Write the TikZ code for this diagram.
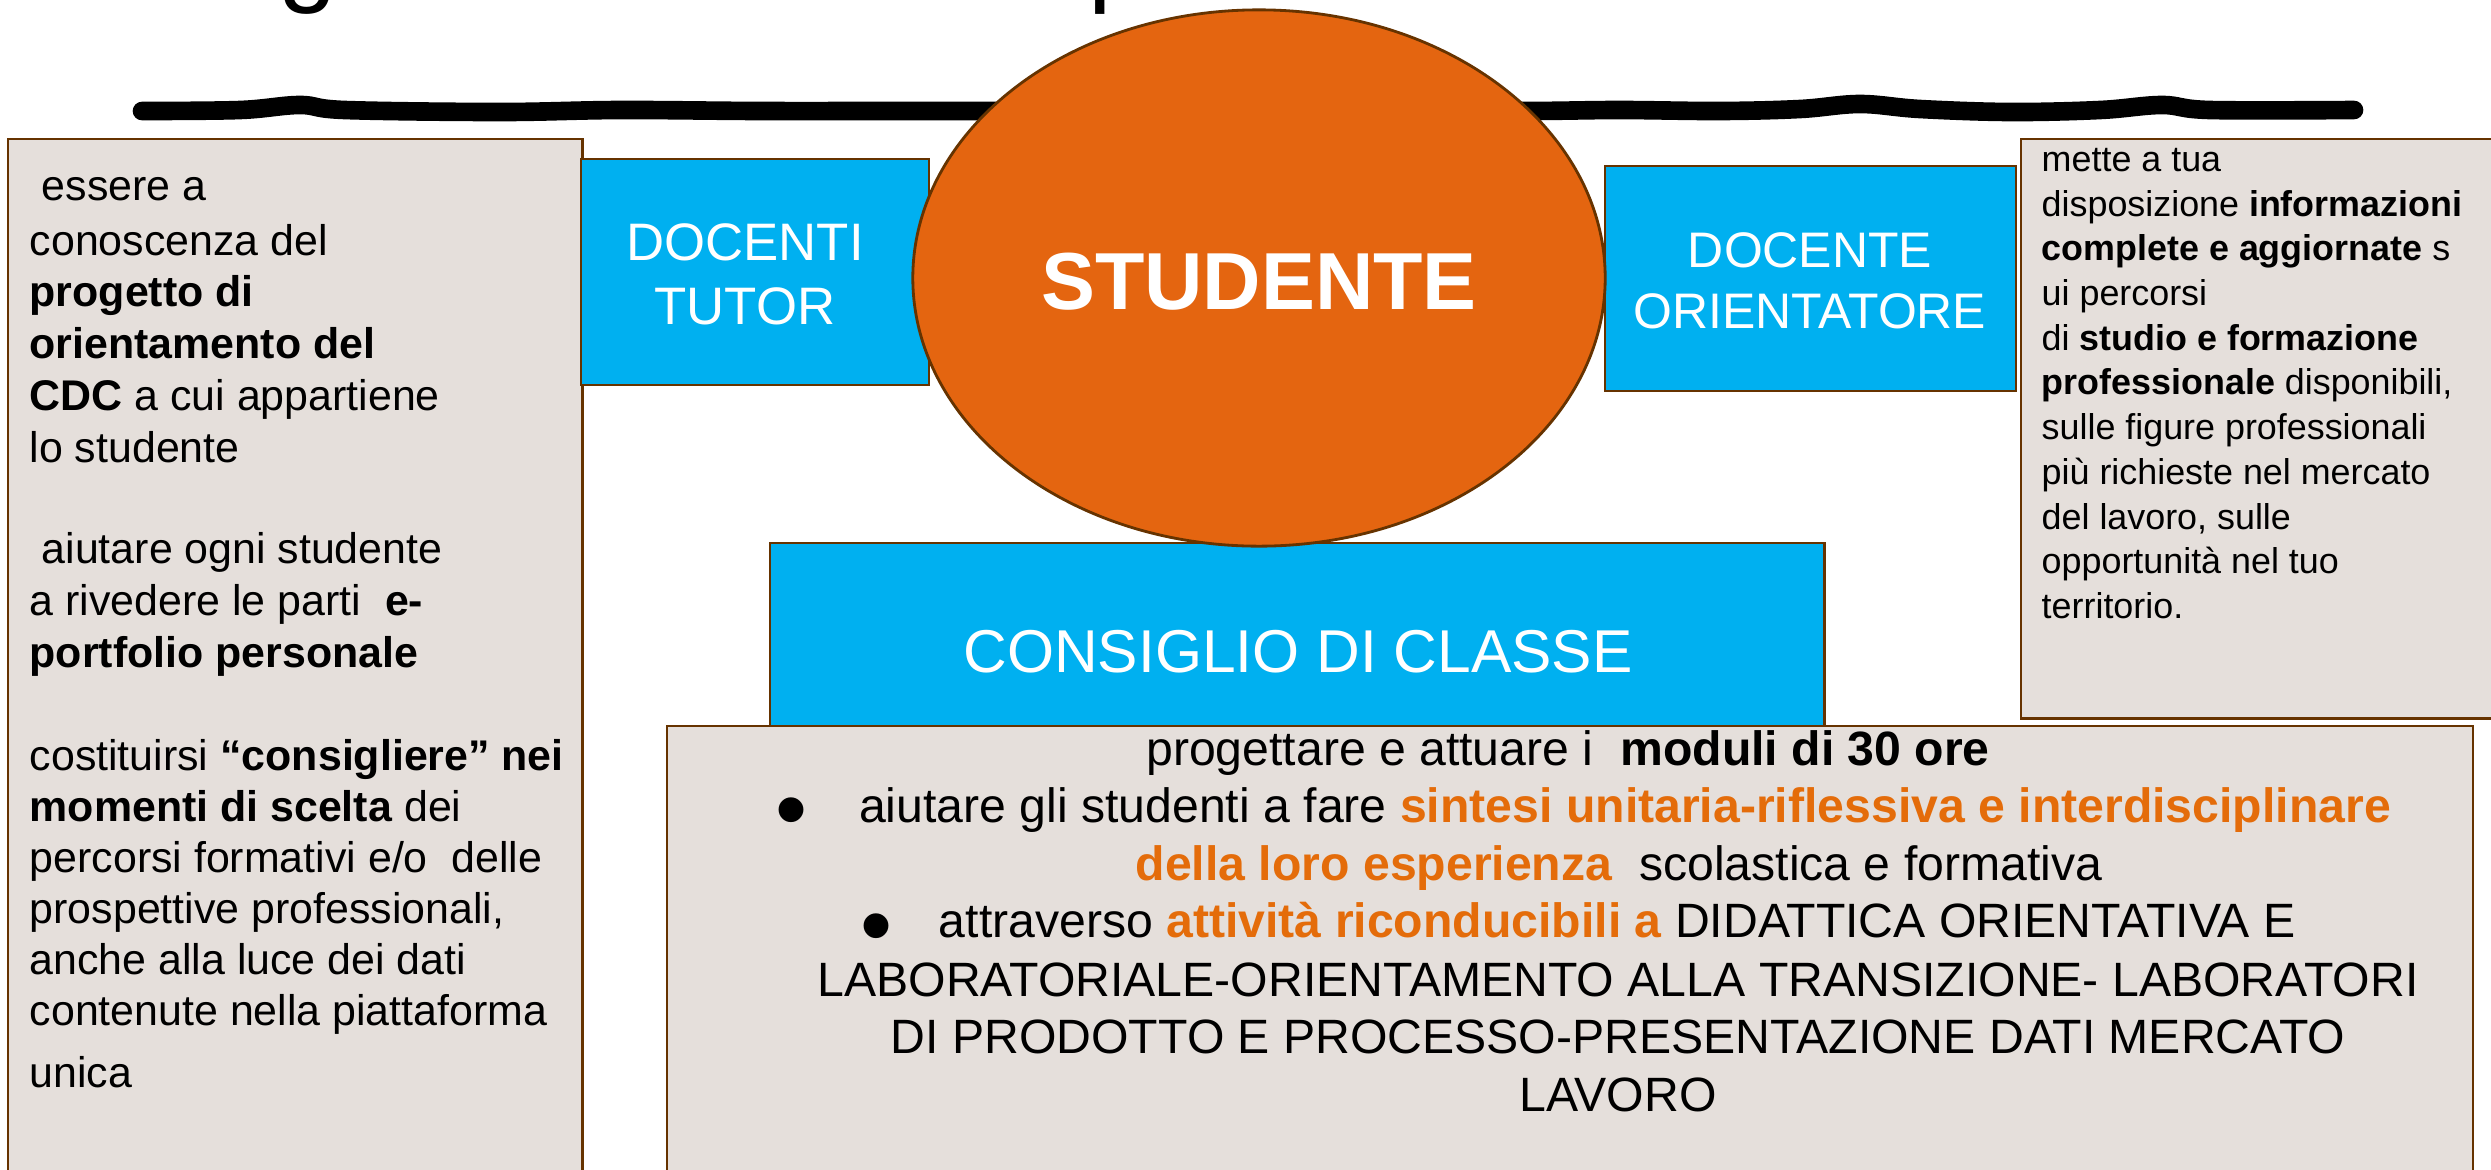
\documentclass[tikz,border=0pt]{standalone}
\usepackage{fontspec}
\setmainfont{Liberation Sans}
\usetikzlibrary{shapes.geometric}
\definecolor{cyanfill}{HTML}{00B0F0}
\definecolor{orangeell}{HTML}{E46510}
\definecolor{orangetxt}{HTML}{E46C0A}
\definecolor{greyfill}{HTML}{E5DFDB}
\definecolor{edgecol}{HTML}{663300}
\begin{document}
\begin{tikzpicture}[x=0.01cm,y=-0.01cm,
  greybox/.style={draw=edgecol, fill=greyfill, line width=0.7pt, anchor=north west, inner sep=0pt, outer sep=0pt},
  cyanbox/.style={draw=edgecol, fill=cyanfill, line width=0.7pt, anchor=north west, inner sep=0pt, outer sep=0pt},
  ln/.style={anchor=base west, inner sep=0pt},
  cl/.style={anchor=base, inner sep=0pt},
  lfont/.style={font=\fontsize{12.2}{14.6}\selectfont},
  rfont/.style={font=\fontsize{10.2}{12.7}\selectfont},
  bfont/.style={font=\fontsize{13.7}{16.4}\selectfont},
  bulletmark/.style={anchor=base, inner sep=0pt, text depth=0pt, text height=0.55em, font=\fontsize{26}{26}\selectfont},
  wlab/.style={anchor=base, inner sep=0pt, text=white},
]
\useasboundingbox (0,0) rectangle (2491,1169);
\fill[white] (0,0) rectangle (2491,1169);

% cut-off title (only descenders visible)
\begin{scope}
\clip (0,0) rectangle (2491,1169);
\node[ln, font=\fontsize{30}{36}\selectfont] (tg) at (278,-8) {g};
\node[ln, font=\fontsize{30}{36}\selectfont] (tp) at (1088,-8) {p};
\end{scope}

% hand-drawn black line
\draw[line width=5.3pt, line cap=round] plot[smooth, tension=0.6] coordinates {
 (142,111) (240,110) (300,105) (345,110) (500,112) (620,110) (760,111) (900,111)
 (1100,111) (1400,111)
 (1530,111) (1620,110) (1720,111) (1800,109) (1860,104) (1920,109) (2010,112)
 (2100,110) (2162,105) (2210,110) (2354,110)};

% boxes
\node[greybox, minimum width=5.74cm, minimum height=10.5cm] (leftbox) at (8,139) {};
\node[greybox, minimum width=5.2cm, minimum height=5.79cm] (rightbox) at (2021,139) {};
\node[cyanbox, minimum width=3.48cm, minimum height=2.26cm] (tutor) at (581,159) {};
\node[cyanbox, minimum width=4.11cm, minimum height=2.25cm] (orient) at (1605,166) {};
\node[cyanbox, minimum width=10.54cm, minimum height=1.85cm] (cdc) at (770,543) {};
\node[ellipse, draw=edgecol, fill=orangeell, line width=0.8pt, inner sep=0pt,
      minimum width=6.92cm, minimum height=5.36cm] (stud) at (1259,278) {};
\node[greybox, minimum width=18.05cm, minimum height=4.7cm] (botbox) at (667,726) {};

% labels in blue boxes and ellipse
\node[wlab, font=\fontsize{15}{17}\selectfont] (tut1) at (745,260) {DOCENTI};
\node[wlab, font=\fontsize{15}{17}\selectfont] (tut2) at (745,324) {TUTOR};
\node[wlab, font=\fontsize{14.2}{17}\selectfont] (or1) at (1810,267) {DOCENTE};
\node[wlab, font=\fontsize{14.2}{17}\selectfont] (or2) at (1810,328) {ORIENTATORE};
\node[wlab, font=\fontsize{23}{27}\selectfont\bfseries] (studlab) at (1259,309) {STUDENTE};
\node[wlab, font=\fontsize{17.2}{20}\selectfont] (cdclab) at (1298,672) {CONSIGLIO DI CLASSE};

% left box text
\node[ln,lfont] (l1) at (41,200) {essere a};
\node[ln,lfont] (l2) at (29,255) {conoscenza del};
\node[ln,lfont] (l3) at (29,306) {\bfseries progetto di};
\node[ln,lfont] (l4) at (29,358) {\bfseries orientamento del};
\node[ln,lfont] (l5) at (29,410) {\textbf{CDC} a cui appartiene};
\node[ln,lfont] (l6) at (29,462) {lo studente};
\node[ln,lfont] (l7) at (41,563) {aiutare ogni studente};
\node[ln,lfont] (l8) at (29,615) {a rivedere le parti\ \ \textbf{e-}};
\node[ln,lfont] (l9) at (29,667) {\bfseries portfolio personale};
\node[ln,lfont] (l10) at (29,770) {costituirsi \textbf{“consigliere” nei}};
\node[ln,lfont] (l11) at (29,821) {\textbf{momenti di scelta} dei};
\node[ln,lfont] (l12) at (29,872) {percorsi formativi e/o\ \ delle};
\node[ln,lfont] (l13) at (29,923) {prospettive professionali,};
\node[ln,lfont] (l14) at (29,974) {anche alla luce dei dati};
\node[ln,lfont] (l15) at (29,1025) {contenute nella piattaforma};
\node[ln,lfont] (l16) at (29,1087) {unica};

% right box text
\node[ln,rfont] (r1) at (2041,171) {mette a tua};
\node[ln,rfont] (r2) at (2041,216) {disposizione \textbf{informazioni}};
\node[ln,rfont] (r3) at (2041,260) {\textbf{complete e aggiornate} s};
\node[ln,rfont] (r4) at (2041,305) {ui percorsi};
\node[ln,rfont] (r5) at (2041,350) {di \textbf{studio e formazione}};
\node[ln,rfont] (r6) at (2041,394) {\textbf{professionale} disponibili,};
\node[ln,rfont] (r7) at (2041,439) {sulle figure professionali};
\node[ln,rfont] (r8) at (2041,484) {più richieste nel mercato};
\node[ln,rfont] (r9) at (2041,529) {del lavoro, sulle};
\node[ln,rfont] (r10) at (2041,573) {opportunità nel tuo};
\node[ln,rfont] (r11) at (2041,618) {territorio.};

% bottom box text
\node[cl,bfont] (b1) at (1568,765) {progettare e attuare i\ \ \textbf{moduli di 30 ore}};
\node[bulletmark] (bul1) at (791,840) {•};
\node[cl,bfont] (b2) at (1625,822) {aiutare gli studenti a fare \textcolor{orangetxt}{\bfseries sintesi unitaria-riflessiva e interdisciplinare}};
\node[cl,bfont] (b3) at (1619,880) {\textcolor{orangetxt}{\bfseries della loro esperienza}\ \ scolastica e formativa};
\node[bulletmark] (bul2) at (876,956) {•};
\node[cl,bfont] (b4) at (1617,937) {attraverso \textcolor{orangetxt}{\bfseries attività riconducibili a} DIDATTICA ORIENTATIVA E};
\node[cl,bfont] (b5) at (1618,996) {LABORATORIALE-ORIENTAMENTO ALLA TRANSIZIONE- LABORATORI};
\node[cl,bfont] (b6) at (1618,1053) {DI PRODOTTO E PROCESSO-PRESENTAZIONE DATI MERCATO};
\node[cl,bfont] (b7) at (1618,1111) {LAVORO};
\end{tikzpicture}
\end{document}
